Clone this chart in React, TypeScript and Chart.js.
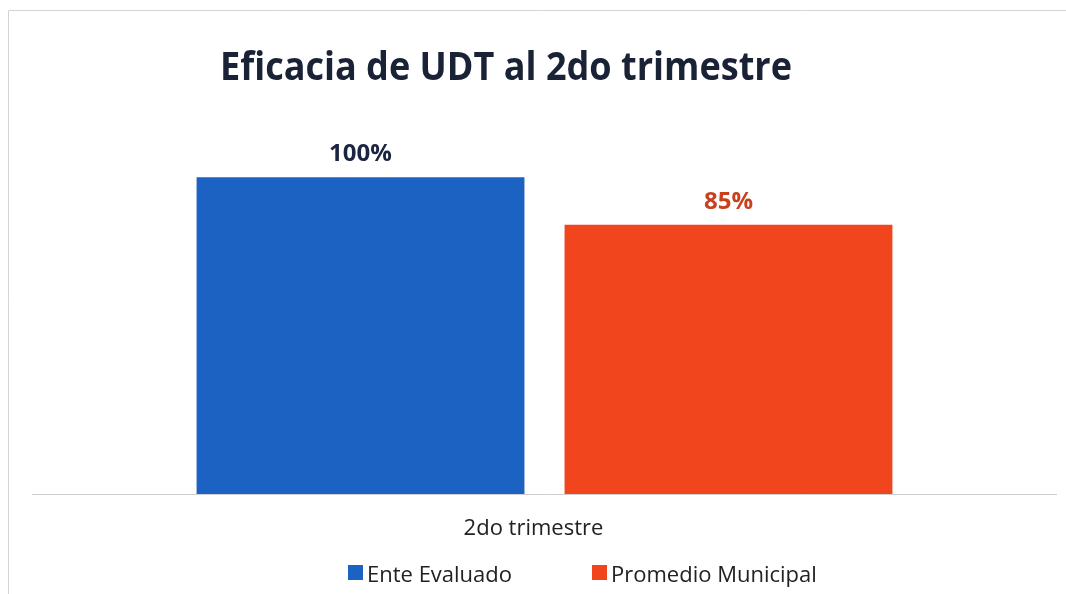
import React, { useEffect, useRef } from "react";
import { Chart, registerables } from "chart.js";

Chart.register(...registerables);

const titleText = "Eficacia de UDT al 2do trimestre";
const categories = ["2do trimestre"];
const seriesNames = ["Ente Evaluado", "Promedio Municipal"];
const enteEvaluado = [100];
const promedioMunicipal = [85];
const seriesColors = ["#1c62c2", "#f1461d"];
const valueLabelColors = ["#1b2440", "#c8401c"];

const FONT = "'Open Sans', 'Noto Sans', sans-serif";

const decorPlugin = {
  id: "decor",
  afterDraw(chart: any) {
    const ctx = chart.ctx;
    const { chartArea } = chart;
    const xs = chart.scales.x;
    const ys = chart.scales.y;
    ctx.save();
    // outer frame (faint)
    ctx.strokeStyle = "#d4d4d4";
    ctx.lineWidth = 1;
    ctx.beginPath();
    ctx.moveTo(8.5, 600);
    ctx.lineTo(8.5, 10.5);
    ctx.lineTo(1066, 10.5);
    ctx.stroke();

    // baseline
    const y0 = Math.round(ys.getPixelForValue(0)) + 0.5;
    ctx.strokeStyle = "#cfcfcf";
    ctx.beginPath();
    ctx.moveTo(chartArea.left, y0);
    ctx.lineTo(chartArea.right, y0);
    ctx.stroke();

    // title
    ctx.fillStyle = "#1a2236";
    ctx.font = `bold 40px ${FONT}`;
    ctx.textAlign = "left";
    ctx.textBaseline = "alphabetic";
    ctx.fillText(titleText, 220, 80, 572);

    // value labels
    ctx.font = `bold 24px ${FONT}`;
    ctx.textAlign = "center";
    chart.data.datasets.forEach((ds: any, i: number) => {
      const meta = chart.getDatasetMeta(i);
      meta.data.forEach((bar: any, j: number) => {
        ctx.fillStyle = valueLabelColors[i];
        ctx.fillText(ds.data[j] + "%", bar.x, bar.y - 16);
      });
    });

    // category label
    ctx.fillStyle = "#222222";
    ctx.font = `22px ${FONT}`;
    categories.forEach((c, j) => {
      ctx.fillText(c, xs.getPixelForValue(j) - 11, 535);
    });

    // legend
    const legendX = [348, 592];
    ctx.textAlign = "left";
    chart.data.datasets.forEach((ds: any, i: number) => {
      ctx.fillStyle = ds.backgroundColor;
      ctx.fillRect(legendX[i], 565, 15, 15);
      ctx.fillStyle = "#222222";
      ctx.fillText(ds.label, legendX[i] + 19, 582);
    });
    ctx.restore();
  },
};

export default function App() {
  const ref = useRef<HTMLCanvasElement>(null);
  useEffect(() => {
    if (!ref.current) return;
    const chart = new Chart(ref.current, {
      type: "bar",
      data: {
        labels: categories,
        datasets: [
          {
            label: seriesNames[0],
            data: enteEvaluado,
            backgroundColor: seriesColors[0],
            categoryPercentage: 0.718,
            barPercentage: 0.891,
          },
          {
            label: seriesNames[1],
            data: promedioMunicipal,
            backgroundColor: seriesColors[1],
            categoryPercentage: 0.718,
            barPercentage: 0.891,
          },
        ],
      },
      options: {
        animation: false,
        responsive: false,
        layout: { padding: { left: 32, right: 9, top: 114, bottom: 100 } },
        scales: {
          x: { display: false },
          y: { display: false, min: 0, max: 120 },
        },
        plugins: {
          legend: { display: false },
          title: { display: false },
          tooltip: { enabled: false },
        },
      },
      plugins: [decorPlugin],
    });
    return () => chart.destroy();
  }, []);
  return (
    <div style={{ position: "fixed", left: 0, top: 0, width: 1066, height: 594, background: "#ffffff" }}>
      <canvas ref={ref} width={1066} height={594} style={{ width: 1066, height: 594 }} />
    </div>
  );
}
